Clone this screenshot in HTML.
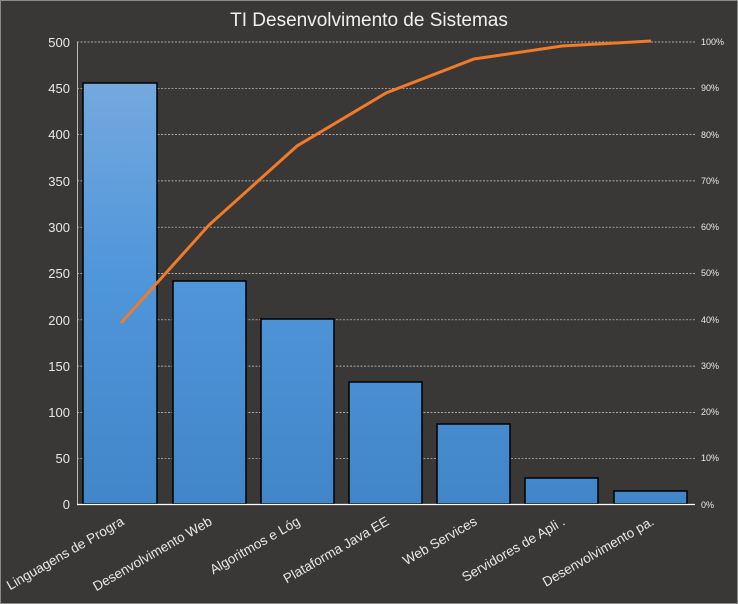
<!DOCTYPE html>
<html><head><style>html,body{margin:0;padding:0;background:#3a3836;overflow:hidden;width:738px;height:604px}svg{display:block}</style></head><body>
<svg width="738" height="604" xmlns="http://www.w3.org/2000/svg" font-family="Liberation Sans, sans-serif">
<defs><linearGradient id="g" gradientUnits="userSpaceOnUse" x1="0" y1="83" x2="0" y2="504"><stop offset="0" stop-color="#74a9de"/><stop offset="0.45" stop-color="#5096da"/><stop offset="1" stop-color="#4086c8"/></linearGradient></defs>
<rect x="0.5" y="0.5" width="737" height="603" fill="#3a3836" stroke="#8a8a8a"/>
<text x="369" y="26" font-size="19" fill="#f0f0f0" text-anchor="middle">TI Desenvolvimento  de Sistemas</text>
<g stroke="#d0d0d0" stroke-dasharray="2,1.5" stroke-width="0.7">
<line x1="77" x2="695" y1="42" y2="42"/><line x1="77" x2="695" y1="88.3" y2="88.3"/><line x1="77" x2="695" y1="134.6" y2="134.6"/><line x1="77" x2="695" y1="180.9" y2="180.9"/><line x1="77" x2="695" y1="227.2" y2="227.2"/><line x1="77" x2="695" y1="273.5" y2="273.5"/><line x1="77" x2="695" y1="319.8" y2="319.8"/><line x1="77" x2="695" y1="366.1" y2="366.1"/><line x1="77" x2="695" y1="412.4" y2="412.4"/><line x1="77" x2="695" y1="458.7" y2="458.7"/>
</g>
<line x1="77.5" y1="42" x2="77.5" y2="505" stroke="#bbb"/>
<g fill="url(#g)" stroke="#000" stroke-width="1.5">
<rect x="83" y="83" width="74" height="421"/>
<rect x="173" y="281" width="73" height="223"/>
<rect x="261" y="319" width="73" height="185"/>
<rect x="349" y="382" width="73" height="122"/>
<rect x="437" y="424" width="73" height="80"/>
<rect x="525" y="478" width="73" height="26"/>
<rect x="614" y="491" width="73" height="13"/>
</g>
<line x1="77" y1="504.5" x2="695" y2="504.5" stroke="#fff" stroke-width="1.2"/>
<polyline points="121,323 209,225 297,146 386,93 474,59 562,46 651,41" fill="none" stroke="#f07b2a" stroke-width="3"/>
<g font-size="13" fill="#e8e8e8" text-anchor="end">
<text x="70" y="47">500</text><text x="70" y="93">450</text><text x="70" y="139">400</text><text x="70" y="186">350</text><text x="70" y="232">300</text><text x="70" y="278">250</text><text x="70" y="325">200</text><text x="70" y="371">150</text><text x="70" y="417">100</text><text x="70" y="463">50</text><text x="70" y="509">0</text>
</g>
<g font-size="9" fill="#e8e8e8">
<text x="701" y="45">100%</text><text x="701" y="91">90%</text><text x="701" y="138">80%</text><text x="701" y="184">70%</text><text x="701" y="230">60%</text><text x="701" y="276">50%</text><text x="701" y="323">40%</text><text x="701" y="369">30%</text><text x="701" y="415">20%</text><text x="701" y="461">10%</text><text x="701" y="508">0%</text>
</g>
<g font-size="13.5" fill="#e8e8e8" text-anchor="end">
<text transform="translate(125,524) rotate(-30)">Linguagens de Progra</text>
<text transform="translate(213,524) rotate(-30)">Desenvolvimento Web</text>
<text transform="translate(301,524) rotate(-30)">Algoritmos e Lóg</text>
<text transform="translate(390,524) rotate(-30)">Plataforma Java EE</text>
<text transform="translate(478,524) rotate(-30)">Web Services</text>
<text transform="translate(566,524) rotate(-30)">Servidores de Apli .</text>
<text transform="translate(655,524) rotate(-30)">Desenvolvimento pa.</text>
</g>
</svg>
</body></html>
